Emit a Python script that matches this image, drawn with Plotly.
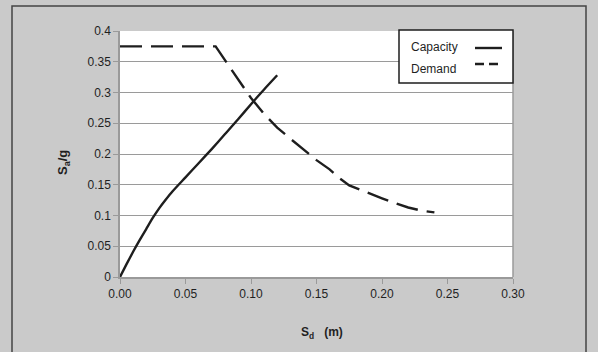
import plotly.graph_objects as go

# Capacity curve (Sd in m, Sa/g)
cap_sd = [0.0, 0.005, 0.010, 0.015, 0.020, 0.025, 0.030, 0.035, 0.040, 0.050, 0.060, 0.070, 0.080, 0.090, 0.100, 0.110, 0.120]
cap_sa = [0.0, 0.021, 0.041, 0.060, 0.078, 0.096, 0.112, 0.126, 0.139, 0.162, 0.185, 0.208, 0.232, 0.256, 0.281, 0.305, 0.328]

# Demand curve
dem_sd = [0.0, 0.073, 0.080, 0.090, 0.100, 0.110, 0.120, 0.130, 0.140, 0.150, 0.160, 0.168, 0.175, 0.190, 0.200, 0.210, 0.220, 0.230, 0.240]
dem_sa = [0.375, 0.375, 0.353, 0.322, 0.291, 0.265, 0.243, 0.225, 0.207, 0.190, 0.175, 0.160, 0.149, 0.136, 0.128, 0.120, 0.113, 0.108, 0.105]

series_names = ["Capacity", "Demand"]
x_ticks = [0.0, 0.05, 0.10, 0.15, 0.20, 0.25, 0.30]
y_ticks = [0, 0.05, 0.1, 0.15, 0.2, 0.25, 0.3, 0.35, 0.4]

W, H = 598, 352
L, R, T, B = 120, 513, 31, 277

def px(x):
    return (x - L) / (R - L)

def py(y):
    return (B - y) / (B - T)

line_col = "#1e1e1e"
grid_col = "#9a9a9a"
font = "Liberation Sans, Arial, sans-serif"
txt_col = "#1f1f1f"

fig = go.Figure()
fig.add_trace(go.Scatter(x=cap_sd, y=cap_sa, mode="lines", name=series_names[0],
                         line=dict(color=line_col, width=2.4, shape="spline", smoothing=0.6),
                         showlegend=False))
fig.add_trace(go.Scatter(x=dem_sd, y=dem_sa, mode="lines", name=series_names[1],
                         line=dict(color=line_col, width=2.4, dash="22px,9px"), showlegend=False))

fig.update_layout(
    width=W, height=H,
    margin=dict(l=L, r=W - R, t=T, b=H - B),
    paper_bgcolor="#cacaca",
    plot_bgcolor="#ffffff",
    font=dict(family=font, size=12, color=txt_col),
    xaxis=dict(range=[0, 0.3], tickvals=x_ticks, tickformat=".2f",
               showgrid=False, zeroline=False, showline=True, linecolor=grid_col, linewidth=1.5,
               ticks="outside", ticklen=5, tickcolor=grid_col, mirror=False,
               tickfont=dict(family=font, size=12, color=txt_col)),
    yaxis=dict(range=[0, 0.4], tickvals=y_ticks,
               showgrid=True, gridcolor=grid_col, gridwidth=1.3, zeroline=False,
               showline=True, linecolor=grid_col, linewidth=1.5,
               ticks="outside", ticklen=5, tickcolor=grid_col,
               tickfont=dict(family=font, size=12, color=txt_col)),
)

# right edge of plot area
fig.add_shape(type="line", xref="paper", yref="paper", x0=1, x1=1, y0=0, y1=1,
              line=dict(color=grid_col, width=1.5))

# outer chart border
fig.add_shape(type="rect", xref="paper", yref="paper",
              x0=px(12), x1=px(586), y0=py(360), y1=py(6),
              line=dict(color="#444444", width=1.5), layer="below")

# axis titles
fig.add_annotation(xref="paper", yref="paper", x=px(322), y=py(333),
                   xanchor="center", yanchor="middle",
                   text="<b>S<sub>d</sub>   (m)</b>", showarrow=False,
                   font=dict(family=font, size=12, color=txt_col))
fig.add_annotation(xref="paper", yref="paper", x=px(63), y=py(163),
                   xanchor="center", yanchor="middle",
                   text="<b>S<sub>a</sub>/g</b>", showarrow=False, textangle=-90,
                   font=dict(family=font, size=13, color=txt_col))

# custom legend (text then line sample)
fig.add_shape(type="rect", xref="paper", yref="paper",
              x0=px(399), x1=px(513), y0=py(83), y1=py(30),
              line=dict(color="#1e1e1e", width=1.5), fillcolor="#ffffff")
fig.add_annotation(xref="paper", yref="paper", x=px(409), y=py(47), xanchor="left", yanchor="middle",
                   text=series_names[0], showarrow=False,
                   font=dict(family=font, size=12, color=txt_col))
fig.add_annotation(xref="paper", yref="paper", x=px(409), y=py(69), xanchor="left", yanchor="middle",
                   text=series_names[1], showarrow=False,
                   font=dict(family=font, size=12, color=txt_col))
fig.add_shape(type="line", xref="paper", yref="paper", x0=px(475), x1=px(502), y0=py(48), y1=py(48),
              line=dict(color=line_col, width=2.4))
fig.add_shape(type="line", xref="paper", yref="paper", x0=px(475), x1=px(502), y0=py(64), y1=py(64),
              line=dict(color=line_col, width=2.4, dash="9px,5px"))

fig.write_html("out.html", config={"displayModeBar": False})

# remove default page margin so the figure sits at the window origin
with open("out.html", "r", encoding="utf-8") as f:
    html = f.read()
html = html.replace("<body>", '<body style="margin:0;padding:0;overflow:hidden">', 1)
with open("out.html", "w", encoding="utf-8") as f:
    f.write(html)
